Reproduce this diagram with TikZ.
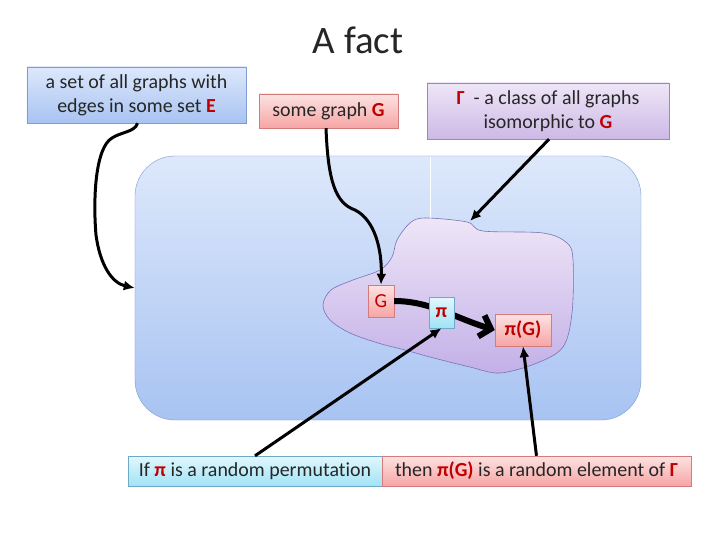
\documentclass[tikz,border=0pt]{standalone}
\usepackage{fontspec}
\setmainfont[Ligatures=NoCommon]{Carlito}
\usetikzlibrary{arrows.meta}
\definecolor{dred}{HTML}{C00000}
\definecolor{bluetop}{HTML}{DDE8FB}
\definecolor{bluebot}{HTML}{A8C3F2}
\definecolor{blueline}{HTML}{7F9DD0}
\definecolor{pinktop}{HTML}{FDE2E2}
\definecolor{pinkbot}{HTML}{F6A5A5}
\definecolor{pinkline}{HTML}{D47C7C}
\definecolor{lavtop}{HTML}{EEE6F7}
\definecolor{lavbot}{HTML}{CDB9E6}
\definecolor{lavline}{HTML}{9C88B8}
\definecolor{cyantop}{HTML}{E2F7FD}
\definecolor{cyanbot}{HTML}{A0E3F6}
\definecolor{cyanline}{HTML}{6FA9C8}
\definecolor{blobline}{HTML}{7A72B8}
\tikzset{
  txt/.style={font=\fontsize{20}{24}\selectfont, align=center, inner sep=0pt, text=black!85},
  bluebox/.style={txt, draw=blueline, top color=bluetop, bottom color=bluebot},
  pinkbox/.style={txt, draw=pinkline, top color=pinktop, bottom color=pinkbot},
  lavbox/.style={txt, draw=lavline, top color=lavtop, bottom color=lavbot},
  cyanbox/.style={txt, draw=cyanline, top color=cyantop, bottom color=cyanbot},
  arr/.style={line width=3bp, -{Latex[length=11bp,width=10bp]}},
  thickarr/.style={line width=6bp, -{Straight Barb[length=10bp,width=22bp]}},
}
\newcommand{\rd}[1]{\textcolor{dred}{\textbf{#1}}}
\begin{document}
\begin{tikzpicture}[x=1bp,y=-1bp]
\useasboundingbox[fill=white] (0,0) rectangle (720,540);
% title
\node[font=\fontsize{39}{44}\selectfont, text=black!85] (title) at (358,40) {A fact};
% universe
\node[draw=blueline, rounded corners=40bp, top color=bluetop, bottom color=bluebot,
      minimum width=506bp, minimum height=264bp, inner sep=0pt] (U) at (388,288) {};
\draw[white, line width=0.8bp] (430,157) -- (430,218);
% blob
\draw[blobline, line width=0.6bp, top color=lavtop, bottom color=lavbot!95!blue]
  plot[smooth cycle, tension=0.55] coordinates {
  (425,218) (467,222) (483,231) (543,233) (567,243) (573,260) (572,313) (563,347)
  (537,363) (500,373) (470,367) (430,357) (405,350) (378,343) (350,333) (330,320)
  (323,305) (331,290) (353,280) (380,270) (392,257) (397,240) (410,223)};
\coordinate (blobtop) at (470,221);
% top boxes
\node[bluebox, minimum width=219bp, minimum height=56bp] (b1) at (136.5,95)
  {a set of all graphs with\\edges in some set \rd{E}};
\node[pinkbox, minimum width=139bp, minimum height=34bp] (b2) at (328.5,111)
  {some graph \rd{G}};
\node[lavbox, minimum width=242bp, minimum height=56bp] (b3) at (548,111)
  {\rd{Γ}\ \ - a class of all graphs\\isomorphic to \rd{G}};
% inner nodes
\node[pinkbox, minimum width=26bp, minimum height=32bp] (G) at (381,301) {\textcolor{dred}{G}};
\node[pinkbox, minimum width=56bp, minimum height=32bp] (pG) at (523,330) {\rd{π(G)}};
\draw[thickarr] (G.east) .. controls (430,301) and (455,318) .. (pG.west);
\node[cyanbox, minimum width=25bp, minimum height=31bp] (pi) at (441.5,312.5) {\rd{π}};
% bottom boxes
\node[cyanbox, minimum width=254bp, minimum height=30bp] (L) at (255,471)
  {If \rd{π} is a random permutation};
\node[pinkbox, minimum width=309bp, minimum height=30bp] (R) at (536.5,471)
  {then \rd{π(G)} is a random element of \rd{Γ}};
% connectors
\draw[arr] ([xshift=1bp]b1.south) .. controls (135,132) and (121,132) .. (112,138)
  .. controls (95,148) and (93,200) .. (96,235)
  .. controls (100,265) and (112,283) .. (U.west);
\draw[arr] ([xshift=-2.5bp]b2.south) .. controls (328,180) and (335,203) .. (355,210)
  .. controls (375,220) and (382,250) .. (G.north);
\draw[arr] ([xshift=1bp]b3.south) -- (blobtop);
\draw[arr] (L.north) -- (pi.south);
\draw[arr] (R.north) -- (pG.south);
\end{tikzpicture}
\end{document}
